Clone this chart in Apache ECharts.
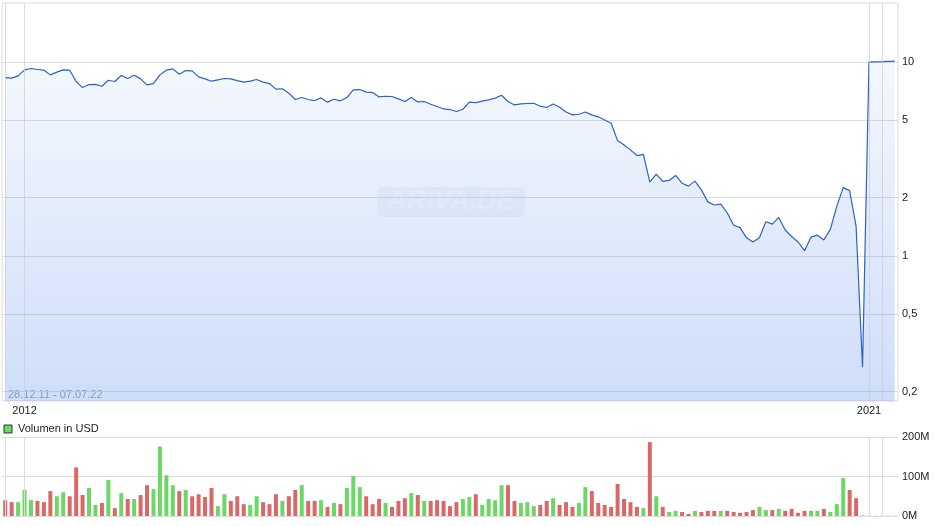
<!DOCTYPE html>
<html><head><meta charset="utf-8">
<script src="https://cdn.jsdelivr.net/npm/echarts/dist/echarts.min.js"></script>
<style>html,body{margin:0;padding:0;background:#fff}#c{width:940px;height:526px}</style>
</head><body><div id="c"></div>
<script>
// Closing prices per period (USD)
const prices = [
  8.30, 8.24, 8.47, 9.09, 9.24, 9.13, 9.06, 8.57, 8.85, 9.09,
  9.06, 7.92, 7.37, 7.64, 7.66, 7.49, 8.04, 7.92, 8.50, 8.21,
  8.54, 8.17, 7.61, 7.73, 8.57, 9.06, 9.20, 8.64, 9.02, 8.98,
  8.37, 8.17, 7.95, 8.08, 8.21, 8.17, 8.01, 7.86, 7.95, 8.11,
  7.86, 7.73, 7.24, 7.27, 6.90, 6.40, 6.55, 6.40, 6.32, 6.52,
  6.20, 6.42, 6.30, 6.55, 7.17, 7.20, 6.98, 6.95, 6.60, 6.65,
  6.63, 6.45, 6.25, 6.55, 6.22, 6.25, 6.05, 5.89, 5.72, 5.68,
  5.55, 5.70, 6.20, 6.17, 6.27, 6.37, 6.50, 6.73, 6.25, 6.00,
  6.07, 6.10, 6.12, 5.91, 5.82, 6.07, 5.84, 5.52, 5.33, 5.37,
  5.52, 5.33, 5.21, 5.02, 4.83, 3.93, 3.73, 3.52, 3.29, 3.34,
  2.40, 2.64, 2.42, 2.45, 2.60, 2.37, 2.29, 2.43, 2.19, 1.90,
  1.83, 1.85, 1.67, 1.44, 1.40, 1.24, 1.18, 1.24, 1.50, 1.46,
  1.58, 1.36, 1.26, 1.18, 1.065, 1.25, 1.28, 1.21, 1.37, 1.80,
  2.25, 2.17, 1.42, 0.267, 9.97, 10.00, 10.02, 10.05, 10.08
];
// Volume per period, millions USD
const volumesM = [
  40, 35, 35, 66, 40, 38, 35, 63, 50, 60,
  50, 123, 53, 71, 28, 33, 91, 20, 58, 43,
  43, 53, 78, 68, 176, 103, 78, 63, 66, 50,
  55, 48, 71, 25, 55, 38, 50, 30, 28, 50,
  35, 30, 55, 38, 50, 66, 78, 38, 38, 40,
  23, 33, 30, 71, 101, 73, 50, 30, 43, 33,
  23, 38, 45, 58, 53, 38, 38, 40, 38, 25,
  35, 43, 48, 55, 28, 43, 40, 78, 78, 38,
  33, 35, 25, 28, 38, 45, 28, 35, 23, 33,
  73, 63, 33, 28, 23, 81, 43, 35, 23, 20,
  187, 50, 23, 10, 13, 10, 5, 13, 10, 13,
  13, 13, 13, 10, 8, 10, 15, 23, 15, 15,
  18, 13, 18, 8, 13, 13, 13, 18, 10, 30,
  96, 66, 45, 1.2, 0.6, 0.6, 0.6, 0.6, 0.6
];
const startPrice = 8.40;
const priceTicks = [0.2, 0.5, 1, 2, 5, 10];
const volumeMax = 200;
const volumeStep = 100;
const yearLabels = {3: '2012', 134: '2021'};
const yearLines = [0, 3, 134, 136];
const dateRange = '28.12.11 - 07.07.22';
const legendText = 'Volumen in USD';
const categories = prices.map((_, i) => String(i + 1));

const UP = '#6bd866', DOWN = '#da6868';
const FONT = '"Liberation Sans", Arial, sans-serif';
const GRID = '#dcdcdc';

const chart = echarts.init(document.getElementById('c'), null, {renderer: 'canvas'});
const volColors = volumesM.map((v, i) => {
  const prev = i === 0 ? startPrice : prices[i - 1];
  return prices[i] >= prev ? UP : DOWN;
});

chart.setOption({
  animation: false,
  textStyle: {fontFamily: FONT},
  grid: [
    {left: 2, right: 42, top: 3, height: 398, show: true, borderColor: GRID, borderWidth: 1, backgroundColor: 'transparent'},
    {left: 2, right: 42, top: 437, height: 79, show: false}
  ],
  xAxis: [
    {type: 'category', gridIndex: 0, data: categories, boundaryGap: true,
     axisLine: {show: false}, axisTick: {show: false}, splitLine: {show: false},
     axisLabel: {interval: 0, formatter: (v, i) => yearLabels[i] || '', color: '#222', fontSize: 11, margin: 4, fontFamily: FONT}},
    {type: 'category', gridIndex: 1, data: categories, boundaryGap: true,
     axisLine: {show: false}, axisTick: {show: false}, axisLabel: {show: false}, splitLine: {show: false}}
  ],
  yAxis: [
    {type: 'log', gridIndex: 0, position: 'right', min: 0.179, max: 20.1,
     axisLine: {show: false},
     axisTick: {show: false, customValues: priceTicks},
     axisLabel: {customValues: priceTicks, formatter: v => String(v).replace('.', ','), color: '#222', fontSize: 11, margin: 4, fontFamily: FONT},
     splitLine: {show: true, lineStyle: {color: GRID, width: 1}}},
    {type: 'value', gridIndex: 1, position: 'right', min: 0, max: volumeMax, interval: volumeStep,
     axisLine: {show: false}, axisTick: {show: false},
     axisLabel: {formatter: v => v + 'M', color: '#222', fontSize: 11, margin: 4, fontFamily: FONT},
     splitLine: {show: true, lineStyle: {color: GRID, width: 1}}}
  ],
  series: [
    {type: 'line', xAxisIndex: 0, yAxisIndex: 0, data: prices, symbol: 'none',
     lineStyle: {color: '#2d62c6', width: 1.2},
     areaStyle: {origin: 'start', color: {type: 'linear', x: 0, y: 3, x2: 0, y2: 401, global: true,
       colorStops: [{offset: 0, color: 'rgba(100,150,235,0.04)'}, {offset: 1, color: 'rgba(95,145,235,0.44)'}]}},
     markLine: {silent: true, symbol: 'none', label: {show: false},
       lineStyle: {color: 'rgba(200,205,215,0.7)', width: 1, type: 'solid'},
       data: yearLines.map(i => ({xAxis: categories[i]}))}},
    {type: 'bar', xAxisIndex: 1, yAxisIndex: 1, barWidth: 4,
     data: volumesM.map((v, i) => ({value: v, itemStyle: {color: volColors[i]}})),
     markLine: {silent: true, symbol: 'none', label: {show: false},
       lineStyle: {color: GRID, width: 1, type: 'solid'},
       data: yearLines.map(i => ({xAxis: categories[i]}))}}
  ],
  graphic: [
    {type: 'text', left: 8, top: 389, silent: true,
     style: {text: dateRange, fill: '#9aa0aa', font: '11px ' + FONT}},
    {type: 'group', left: 377, top: 187, silent: true, children: [
      {type: 'rect', shape: {x: 0, y: 0, width: 148, height: 30, r: 6},
       style: {fill: 'rgba(140,160,200,0.09)'}},
      {type: 'text', x: 74, y: 15,
       style: {text: 'ARIVA.DE', fill: 'rgba(255,255,255,0.6)', font: 'italic bold 27px ' + FONT, align: 'center', verticalAlign: 'middle'}}
    ]},
    {type: 'rect', left: 3.5, top: 424.5, silent: true,
     shape: {width: 8, height: 8}, style: {fill: UP, stroke: '#333', lineWidth: 1}},
    {type: 'text', left: 18, top: 423, silent: true,
     style: {text: legendText, fill: '#222', font: '11px ' + FONT}}
  ]
});
</script></body></html>
